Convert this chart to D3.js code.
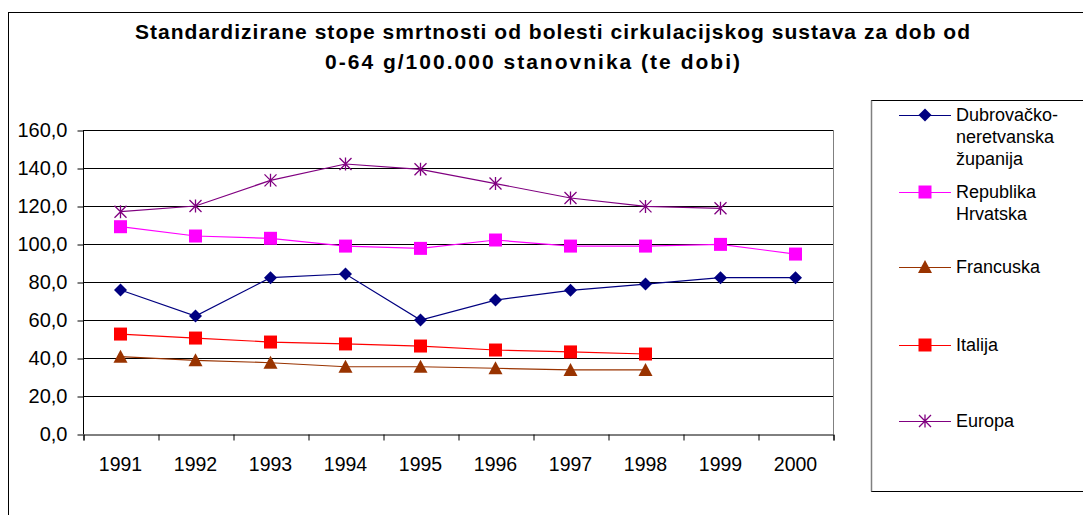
<!DOCTYPE html>
<html>
<head>
<meta charset="utf-8">
<script src="https://cdn.jsdelivr.net/npm/d3@7"></script>
<style>
  html, body { margin: 0; padding: 0; background: #fff; }
  svg { display: block; font-family: "Liberation Sans", Arial, sans-serif; }
</style>
</head>
<body>
<div id="chart"></div>
<script>
// chart data
const years = ['1991', '1992', '1993', '1994', '1995', '1996', '1997', '1998', '1999', '2000'];
const seriesNames = ['Dubrovačko-neretvanska županija', 'Republika Hrvatska', 'Francuska', 'Italija', 'Europa'];
const legendLines = [['Dubrovačko-', 'neretvanska', 'županija'], ['Republika', 'Hrvatska'], ['Francuska'], ['Italija'], ['Europa']];
const dubrovnik = [75.8, 62.1, 82.3, 84.2, 60.0, 70.5, 75.6, 78.9, 82.3, 82.3];
const hrvatska = [109.1, 104.2, 103.0, 98.9, 97.7, 102.1, 98.9, 98.9, 99.8, 94.7];
const francuska = [40.7, 38.8, 37.5, 35.4, 35.4, 34.6, 33.7, 33.7, null, null];
const italija = [52.6, 50.5, 48.4, 47.4, 46.3, 44.2, 43.2, 42.1, null, null];
const europa = [117.0, 120.0, 133.5, 142.1, 139.3, 131.8, 124.2, 119.8, 118.8, null];
const yTicks = [0, 20, 40, 60, 80, 100, 120, 140, 160];
const titleLines = ['Standardizirane stope smrtnosti od bolesti cirkulacijskog sustava za dob od', '0-64 g/100.000 stanovnika (te dobi)'];

const W = 1083, H = 515;
const plot = { left: 83, right: 833, top: 130, bottom: 434 };

const series = [
    { name: seriesNames[0], values: dubrovnik, color: '#000080', marker: 'diamond' },
    { name: seriesNames[1], values: hrvatska, color: '#ff00ff', marker: 'square' },
    { name: seriesNames[2], values: francuska, color: '#993300', marker: 'triangle' },
    { name: seriesNames[3], values: italija, color: '#ff0000', marker: 'square' },
    { name: seriesNames[4], values: europa, color: '#800080', marker: 'star' },
];

const svg = d3.select('#chart').append('svg')
    .attr('width', W)
    .attr('height', H);

// outer chart frame (runs off the right and bottom edge)
svg.append('rect')
    .attr('x', 8.5).attr('y', 12.5)
    .attr('width', 1200).attr('height', 600)
    .attr('fill', 'none')
    .attr('stroke', '#000');

// title, stretched a bit like the original
const titleX = [135, 325];
const titleW = [835, 415];
const titleY = [32, 62];
titleLines.forEach((t, i) => {
    svg.append('text')
        .attr('x', titleX[i])
        .attr('y', titleY[i])
        .attr('dy', '0.35em')
        .attr('font-size', 21)
        .attr('font-weight', 'bold')
        .attr('textLength', titleW[i])
        .attr('lengthAdjust', 'spacing')
        .text(t);
});

var x = d3.scaleBand()
    .domain(years)
    .range([plot.left, plot.right]);

var y = d3.scaleLinear()
    .domain([0, 160])
    .range([plot.bottom, plot.top]);

// horizontal gridlines
svg.append('g')
    .selectAll('line')
    .data(yTicks.filter((d) => d > 0))
    .enter()
    .append('line')
    .attr('x1', plot.left).attr('x2', plot.right)
    .attr('y1', (d) => Math.round(y(d)) + 0.5)
    .attr('y2', (d) => Math.round(y(d)) + 0.5)
    .attr('stroke', '#000');

// plot area right border
svg.append('line')
    .attr('x1', plot.right + 0.5).attr('x2', plot.right + 0.5)
    .attr('y1', plot.top).attr('y2', plot.bottom)
    .attr('stroke', '#808080');

// y axis
var yAxis = svg.append('g')
    .attr('transform', `translate(${plot.left + 0.5},0.5)`)
    .call(d3.axisLeft(y)
        .tickValues(yTicks)
        .tickSize(6)
        .tickPadding(10)
        .tickFormat((d) => d3.format('.1f')(d).replace('.', ',')));
yAxis.select('.domain').attr('stroke', '#000').attr('d', `M0,${plot.top}V${plot.bottom}`);
yAxis.selectAll('text')
    .attr('font-size', 20)
    .attr('font-family', '"Liberation Sans", Arial, sans-serif')
    .attr('fill', '#000');

// x axis: tick marks between categories, labels under the centres
var xEdge = d3.scaleLinear().domain([0, years.length]).range([plot.left, plot.right]);
var xTickAxis = svg.append('g')
    .attr('transform', `translate(0.5,${plot.bottom + 0.5})`)
    .call(d3.axisBottom(xEdge)
        .tickValues(d3.range(0, years.length + 1))
        .tickSize(6)
        .tickFormat(''));
xTickAxis.select('.domain').attr('stroke', '#000');

var xAxis = svg.append('g')
    .attr('transform', `translate(0,${plot.bottom})`)
    .call(d3.axisBottom(x).tickSize(0).tickPadding(23));
xAxis.select('.domain').remove();
xAxis.selectAll('text')
    .attr('font-size', 19.5)
    .attr('font-family', '"Liberation Sans", Arial, sans-serif')
    .attr('fill', '#000');

// marker shapes
function markerPath(type) {
    if (type === 'diamond') return 'M0,-6.5L6.5,0L0,6.5L-6.5,0Z';
    if (type === 'square') return 'M-6.5,-6.5H6.5V6.5H-6.5Z';
    if (type === 'triangle') return 'M0,-7L7,6H-7Z';
    // asterisk: vertical line plus an X
    return 'M0,-6.5V6.5M-6,-6L6,6M-6,6L6,-6';
}

function drawMarker(g, type, color) {
    if (type === 'star') {
        g.append('path')
            .attr('d', markerPath(type))
            .attr('fill', 'none')
            .attr('stroke', color)
            .attr('stroke-width', 1.3);
    } else {
        g.append('path')
            .attr('d', markerPath(type))
            .attr('fill', color);
    }
}

var line = d3.line()
    .defined((d) => d != null)
    .x((d, i) => x(years[i]) + x.bandwidth() / 2)
    .y((d) => y(d));

series.forEach((s) => {
    var g = svg.append('g');
    g.append('path')
        .datum(s.values)
        .attr('d', line)
        .attr('fill', 'none')
        .attr('stroke', s.color)
        .attr('stroke-width', 1.2);

    s.values.forEach((v, i) => {
        if (v == null) return;
        var m = g.append('g')
            .attr('transform', `translate(${x(years[i]) + x.bandwidth() / 2},${y(v)})`);
        drawMarker(m, s.marker, s.color);
    });
});

// legend box
svg.append('rect')
    .attr('x', 871.5).attr('y', 100.5)
    .attr('width', 300).attr('height', 391)
    .attr('fill', '#fff')
    .attr('stroke', '#000');
svg.append('line')
    .attr('x1', 871.5).attr('x2', 871.5)
    .attr('y1', 100.5).attr('y2', 491.5)
    .attr('stroke', '#808080')
    .attr('stroke-width', 1.5);

const legendY = [115, 192, 267, 345, 421];
series.forEach((s, i) => {
    var g = svg.append('g').attr('transform', `translate(0,${legendY[i]})`);
    g.append('line')
        .attr('x1', 899).attr('x2', 951)
        .attr('y1', 0.5).attr('y2', 0.5)
        .attr('stroke', s.color)
        .attr('stroke-width', 1.2);
    var m = g.append('g').attr('transform', 'translate(925,0)');
    drawMarker(m, s.marker, s.color);
    legendLines[i].forEach((t, j) => {
        g.append('text')
            .attr('x', 956)
            .attr('y', j * 22)
            .attr('dy', '0.35em')
            .attr('font-size', 18)
            .text(t);
    });
});
</script>
</body>
</html>
